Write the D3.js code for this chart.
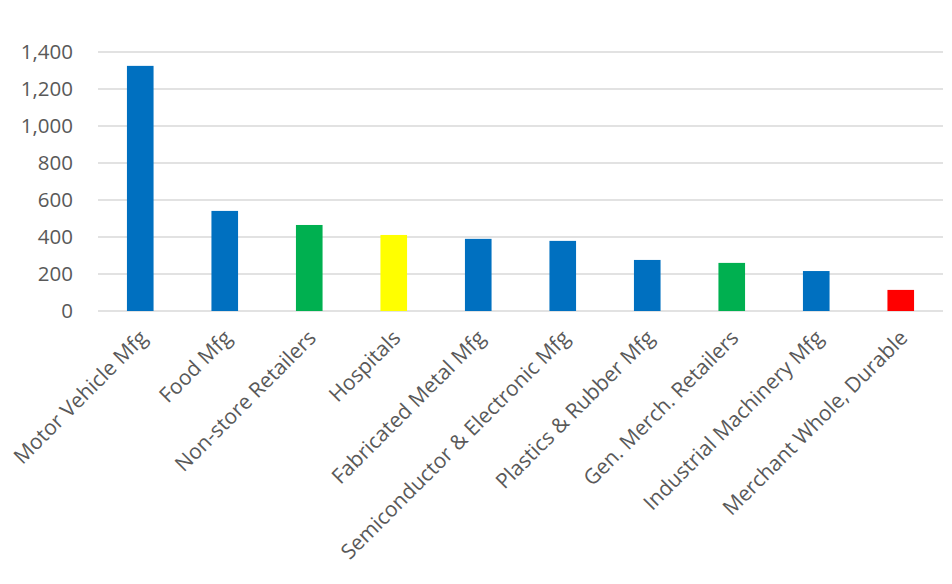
<!DOCTYPE html>
<html>
<head>
<meta charset="utf-8">
<script src="https://cdn.jsdelivr.net/npm/d3@7"></script>
<style>
  body { margin: 0; background: #fff; }
  svg { display: block; }
  svg text { font-family: "Open Sans", sans-serif; }
</style>
</head>
<body>
<div id="chart"></div>
<script>
// Chart data
const categories = [
  'Motor Vehicle Mfg', 'Food Mfg', 'Non-store Retailers', 'Hospitals',
  'Fabricated Metal Mfg', 'Semiconductor & Electronic Mfg', 'Plastics & Rubber Mfg',
  'Gen. Merch. Retailers', 'Industrial Machinery Mfg', 'Merchant Whole, Durable'
];
const values = [1325, 541, 465, 411, 390, 379, 276, 260, 216, 114];
const barColors = ['#0070c0', '#0070c0', '#00b050', '#ffff00', '#0070c0',
  '#0070c0', '#0070c0', '#00b050', '#0070c0', '#ff0000'];
const yTicks = [0, 200, 400, 600, 800, 1000, 1200, 1400];

const width = 952;
const height = 584;
const margin = { top: 52, right: 9, bottom: 273, left: 98 };
const chartWidth = width - margin.left - margin.right;
const chartHeight = height - margin.top - margin.bottom;

const svg = d3.select('#chart')
  .append('svg')
  .attr('width', width)
  .attr('height', height);

const g = svg.append('g')
  .attr('transform', `translate(${margin.left},${margin.top})`);

// Scales
const xScale = d3.scaleBand()
  .domain(categories)
  .range([0, chartWidth])
  .padding(0);

const yScale = d3.scaleLinear()
  .domain([0, 1400])
  .range([chartHeight, 0]);

// Gridlines
g.append('g')
  .attr('class', 'grid')
  .selectAll('line')
  .data(yTicks)
  .join('line')
  .attr('x1', 0)
  .attr('x2', chartWidth)
  .attr('y1', d => yScale(d))
  .attr('y2', d => yScale(d))
  .attr('stroke', '#d9d9d9')
  .attr('stroke-width', 1.3);

// Y axis
const yAxis = d3.axisLeft(yScale)
  .tickValues(yTicks)
  .tickSize(0)
  .tickPadding(25)
  .tickFormat(d3.format(','));

g.append('g')
  .call(yAxis)
  .attr('font-family', null)
  .call(s => s.select('.domain').remove())
  .selectAll('text')
  .attr('fill', '#595959')
  .style('font-size', '20.5px');

// Bars
const barWidth = xScale.bandwidth() * 0.315;
g.selectAll('.bar')
  .data(values)
  .join('rect')
  .attr('class', 'bar')
  .attr('x', (d, i) => xScale(categories[i]) + (xScale.bandwidth() - barWidth) / 2)
  .attr('y', d => yScale(d))
  .attr('width', barWidth)
  .attr('height', d => chartHeight - yScale(d))
  .attr('fill', (d, i) => barColors[i]);

// X axis labels (rotated)
const xAxis = d3.axisBottom(xScale)
  .tickSize(0)
  .tickPadding(0);

g.append('g')
  .attr('transform', `translate(0,${chartHeight})`)
  .call(xAxis)
  .attr('font-family', null)
  .call(s => s.select('.domain').remove())
  .selectAll('text')
  .attr('fill', '#595959')
  .style('font-size', '21px')
  .style('text-anchor', 'end')
  .attr('x', 0)
  .attr('y', 0)
  .attr('dy', '0.35em')
  .attr('transform', 'translate(3,23) rotate(-45)');
</script>
</body>
</html>
